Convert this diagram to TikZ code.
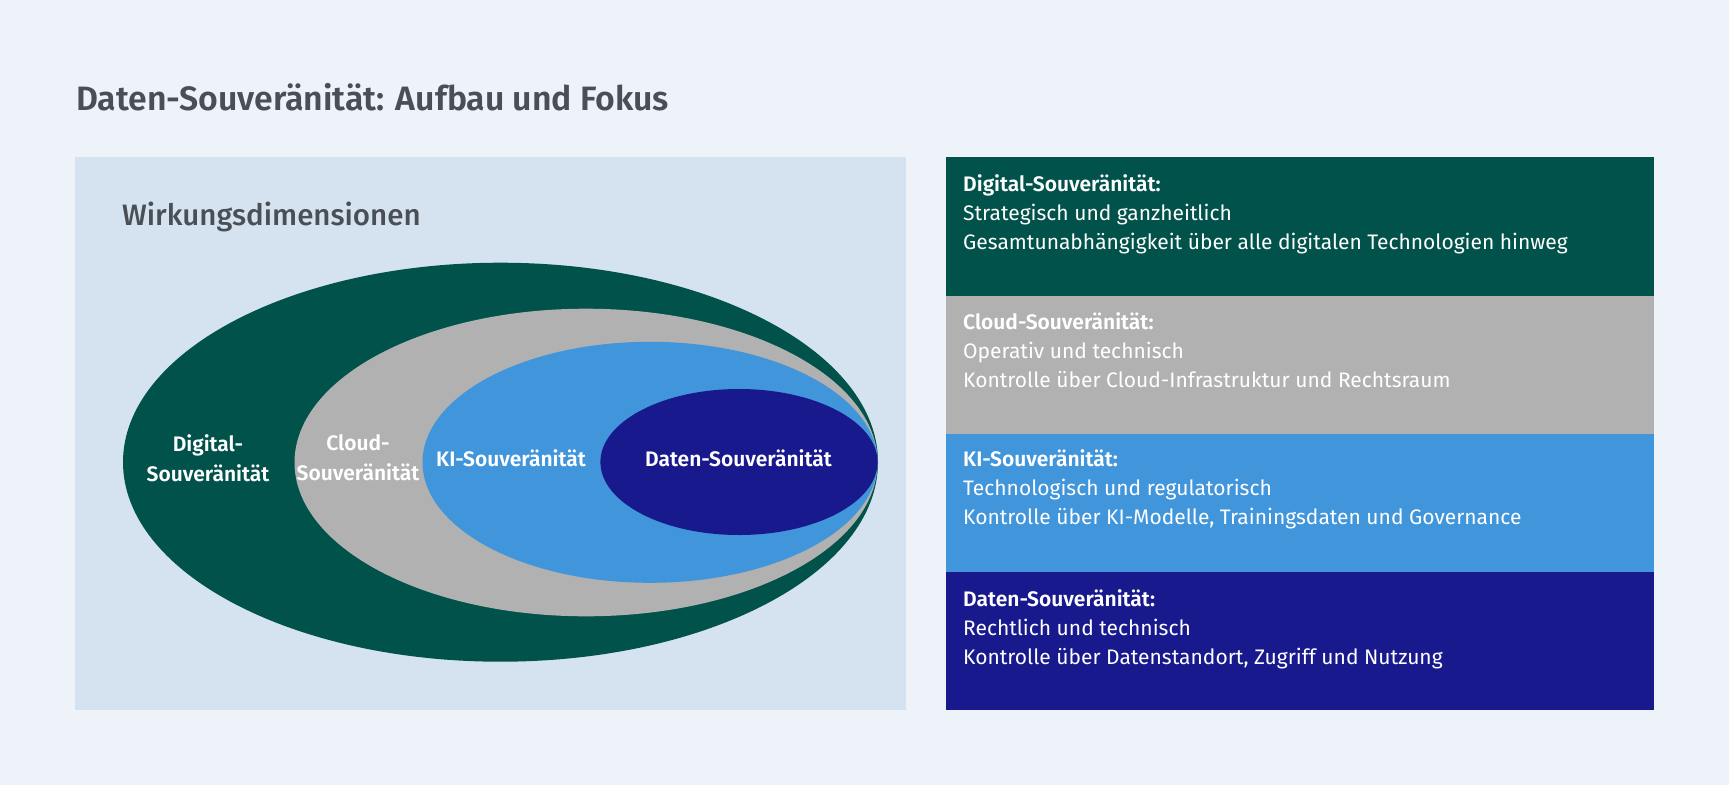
\documentclass[tikz,border=0pt]{standalone}
\usepackage{fontspec}
\setmainfont{Fira Sans}[BoldFont={Fira Sans SemiBold}]
\newfontfamily\medfont{Fira Sans Medium}
\definecolor{pagebg}{HTML}{EEF3FA}
\definecolor{panelbg}{HTML}{D5E3F0}
\definecolor{dgreen}{HTML}{00524A}
\definecolor{lgray}{HTML}{B0B1B0}
\definecolor{mblue}{HTML}{4095DB}
\definecolor{navy}{HTML}{19198E}
\definecolor{titlegray}{HTML}{4A4F55}
\tikzset{
  x=1pt,y=-1pt,
  ringlabel/.style={text=white,font=\fontsize{21}{30}\selectfont\bfseries,align=center,inner sep=0pt},
  boxhead/.style={text=white,anchor=mid west,inner sep=0pt,font=\fontsize{21}{24}\selectfont\bfseries},
  boxline/.style={text=white,anchor=mid west,inner sep=0pt,font=\fontsize{21}{24}\selectfont},
}
\begin{document}
\begin{tikzpicture}
\fill[pagebg] (0,0) rectangle (1729,785);
\useasboundingbox (0,0) rectangle (1729,785);
\node[anchor=base west,inner sep=0pt,text=titlegray,font=\fontsize{33.8}{36}\selectfont\bfseries] (title) at (76,110) {Daten-Souveränität: Aufbau und Fokus};
% left panel
\fill[panelbg] (75,157) rectangle (906,710);
\node[anchor=base west,inner sep=0pt,text=titlegray,font=\fontsize{29.5}{32}\selectfont\medfont] (wd) at (122,225) {Wirkungsdimensionen};
\fill[dgreen] (500.5,462.2) ellipse [x radius=377.5,y radius=199.5];
\fill[lgray] (586,462.5) ellipse [x radius=291.5,y radius=153.8];
\fill[mblue] (650,462.3) ellipse [x radius=227.5,y radius=120.5];
\fill[navy] (739,462) ellipse [x radius=138.6,y radius=73];
\node[ringlabel] (ldig) at (208,458) {Digital-\\Souveränität};
\node[ringlabel] (lcloud) at (358,458) {Cloud-\\Souveränität};
\node[ringlabel] (lki) at (511,458) {KI-Souveränität};
\node[ringlabel] (ldat) at (738.5,458) {Daten-Souveränität};
% right panels
\fill[dgreen] (946,157) rectangle (1654,295.5);
\fill[lgray] (946,295.5) rectangle (1654,433.5);
\fill[mblue] (946,433.5) rectangle (1654,571.5);
\fill[navy] (946,571.5) rectangle (1654,710);
\node[boxhead] (h1) at (963,189) {Digital-Souveränität:};
\node[boxline] (a1) at (963,218) {Strategisch und ganzheitlich};
\node[boxline] (b1) at (963,247) {Gesamtunabhängigkeit über alle digitalen Technologien hinweg};
\node[boxhead] (h2) at (963,327) {Cloud-Souveränität:};
\node[boxline] (a2) at (963,356) {Operativ und technisch};
\node[boxline] (b2) at (963,385) {Kontrolle über Cloud-Infrastruktur und Rechtsraum};
\node[boxhead] (h3) at (963,464) {KI-Souveränität:};
\node[boxline] (a3) at (963,493) {Technologisch und regulatorisch};
\node[boxline] (b3) at (963,522) {Kontrolle über KI-Modelle, Trainingsdaten und Governance};
\node[boxhead] (h4) at (963,604) {Daten-Souveränität:};
\node[boxline] (a4) at (963,633) {Rechtlich und technisch};
\node[boxline] (b4) at (963,662) {Kontrolle über Datenstandort, Zugriff und Nutzung};
\end{tikzpicture}
\end{document}
